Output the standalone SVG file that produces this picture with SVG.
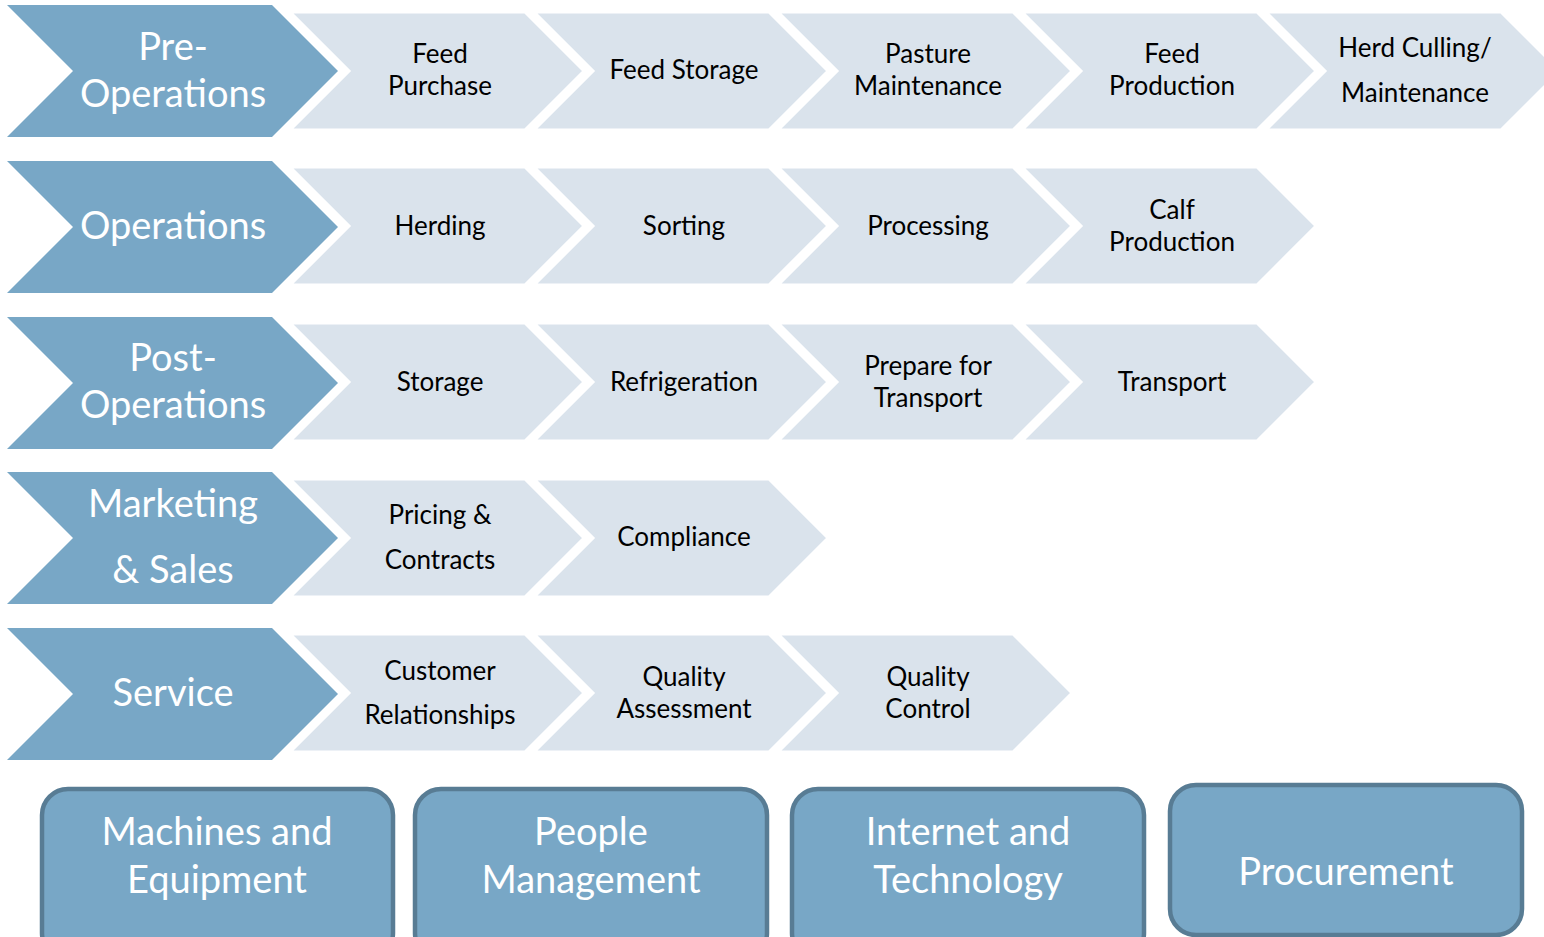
<svg xmlns="http://www.w3.org/2000/svg" xmlns:xlink="http://www.w3.org/1999/xlink" width="1544" height="937" viewBox="0 0 1544 937">
<style>
.big{fill:#78A7C6;}
.lt{fill:#DAE3EC;stroke:#FFFFFF;stroke-width:3;stroke-linejoin:miter;}
.box{fill:#78A7C6;stroke:#587C94;stroke-width:4.5;}
.bt{font-family:Lato,"Liberation Sans",sans-serif;font-size:38px;fill:#FFFFFF;text-anchor:middle;}
.st{font-family:Lato,"Liberation Sans",sans-serif;font-size:26px;fill:#000000;text-anchor:middle;}
</style>
<defs>
<path id="bigc" d="M0,0 H265 L331,66 L265,132 H0 L66,66 Z"/>
<path id="ltc" d="M0,0 H235 L294,59 L235,118 H0 L59,59 Z"/>
</defs>
<rect width="1544" height="937" fill="#FFFFFF"/>

<!-- Row 1 -->
<g id="pre-operations"><use xlink:href="#bigc" class="big" x="7" y="5"/><text class="bt" x="173" y="60">Pre-</text><text class="bt" x="173" y="107">Operations</text></g>
<g id="feed-purchase"><use xlink:href="#ltc" class="lt" x="290" y="12"/><text class="st" x="440" y="63">Feed</text><text class="st" x="440" y="95">Purchase</text></g>
<g id="feed-storage"><use xlink:href="#ltc" class="lt" x="534" y="12"/><text class="st" x="684" y="79">Feed Storage</text></g>
<g id="pasture-maintenance"><use xlink:href="#ltc" class="lt" x="778" y="12"/><text class="st" x="928" y="63">Pasture</text><text class="st" x="928" y="95">Maintenance</text></g>
<g id="feed-production"><use xlink:href="#ltc" class="lt" x="1022" y="12"/><text class="st" x="1172" y="63">Feed</text><text class="st" x="1172" y="95">Production</text></g>
<g id="herd-culling"><use xlink:href="#ltc" class="lt" x="1266" y="12"/><text class="st" x="1415" y="57">Herd Culling/</text><text class="st" x="1415" y="102">Maintenance</text></g>

<!-- Row 2 -->
<g id="operations"><use xlink:href="#bigc" class="big" x="7" y="161"/><text class="bt" x="173" y="239">Operations</text></g>
<g id="herding"><use xlink:href="#ltc" class="lt" x="290" y="167"/><text class="st" x="440" y="235">Herding</text></g>
<g id="sorting"><use xlink:href="#ltc" class="lt" x="534" y="167"/><text class="st" x="684" y="235">Sorting</text></g>
<g id="processing"><use xlink:href="#ltc" class="lt" x="778" y="167"/><text class="st" x="928" y="235">Processing</text></g>
<g id="calf-production"><use xlink:href="#ltc" class="lt" x="1022" y="167"/><text class="st" x="1172" y="219">Calf</text><text class="st" x="1172" y="251">Production</text></g>

<!-- Row 3 -->
<g id="post-operations"><use xlink:href="#bigc" class="big" x="7" y="317"/><text class="bt" x="173" y="371">Post-</text><text class="bt" x="173" y="418">Operations</text></g>
<g id="storage"><use xlink:href="#ltc" class="lt" x="290" y="323"/><text class="st" x="440" y="391">Storage</text></g>
<g id="refrigeration"><use xlink:href="#ltc" class="lt" x="534" y="323"/><text class="st" x="684" y="391">Refrigeration</text></g>
<g id="prepare-transport"><use xlink:href="#ltc" class="lt" x="778" y="323"/><text class="st" x="928" y="375">Prepare for</text><text class="st" x="928" y="407">Transport</text></g>
<g id="transport"><use xlink:href="#ltc" class="lt" x="1022" y="323"/><text class="st" x="1172" y="391">Transport</text></g>

<!-- Row 4 -->
<g id="marketing-sales"><use xlink:href="#bigc" class="big" x="7" y="472"/><text class="bt" x="173" y="517">Marketing</text><text class="bt" x="173" y="583">&amp; Sales</text></g>
<g id="pricing-contracts"><use xlink:href="#ltc" class="lt" x="290" y="479"/><text class="st" x="440" y="524">Pricing &amp;</text><text class="st" x="440" y="569">Contracts</text></g>
<g id="compliance"><use xlink:href="#ltc" class="lt" x="534" y="479"/><text class="st" x="684" y="546">Compliance</text></g>

<!-- Row 5 -->
<g id="service"><use xlink:href="#bigc" class="big" x="7" y="628"/><text class="bt" x="173" y="706">Service</text></g>
<g id="customer-relationships"><use xlink:href="#ltc" class="lt" x="290" y="634"/><text class="st" x="440" y="680">Customer</text><text class="st" x="440" y="724">Relationships</text></g>
<g id="quality-assessment"><use xlink:href="#ltc" class="lt" x="534" y="634"/><text class="st" x="684" y="686">Quality</text><text class="st" x="684" y="718">Assessment</text></g>
<g id="quality-control"><use xlink:href="#ltc" class="lt" x="778" y="634"/><text class="st" x="928" y="686">Quality</text><text class="st" x="928" y="718">Control</text></g>

<!-- Bottom boxes -->
<g id="machines-equipment"><rect class="box" x="42" y="789" width="351" height="170" rx="26"/><text class="bt" x="217" y="845">Machines and</text><text class="bt" x="217" y="893">Equipment</text></g>
<g id="people-management"><rect class="box" x="415" y="789" width="352" height="170" rx="26"/><text class="bt" x="591" y="845">People</text><text class="bt" x="591" y="893">Management</text></g>
<g id="internet-technology"><rect class="box" x="792" y="789" width="352" height="170" rx="26"/><text class="bt" x="968" y="845">Internet and</text><text class="bt" x="968" y="893">Technology</text></g>
<g id="procurement"><rect class="box" x="1170" y="785" width="352" height="150" rx="26"/><text class="bt" x="1346" y="885">Procurement</text></g>
</svg>
